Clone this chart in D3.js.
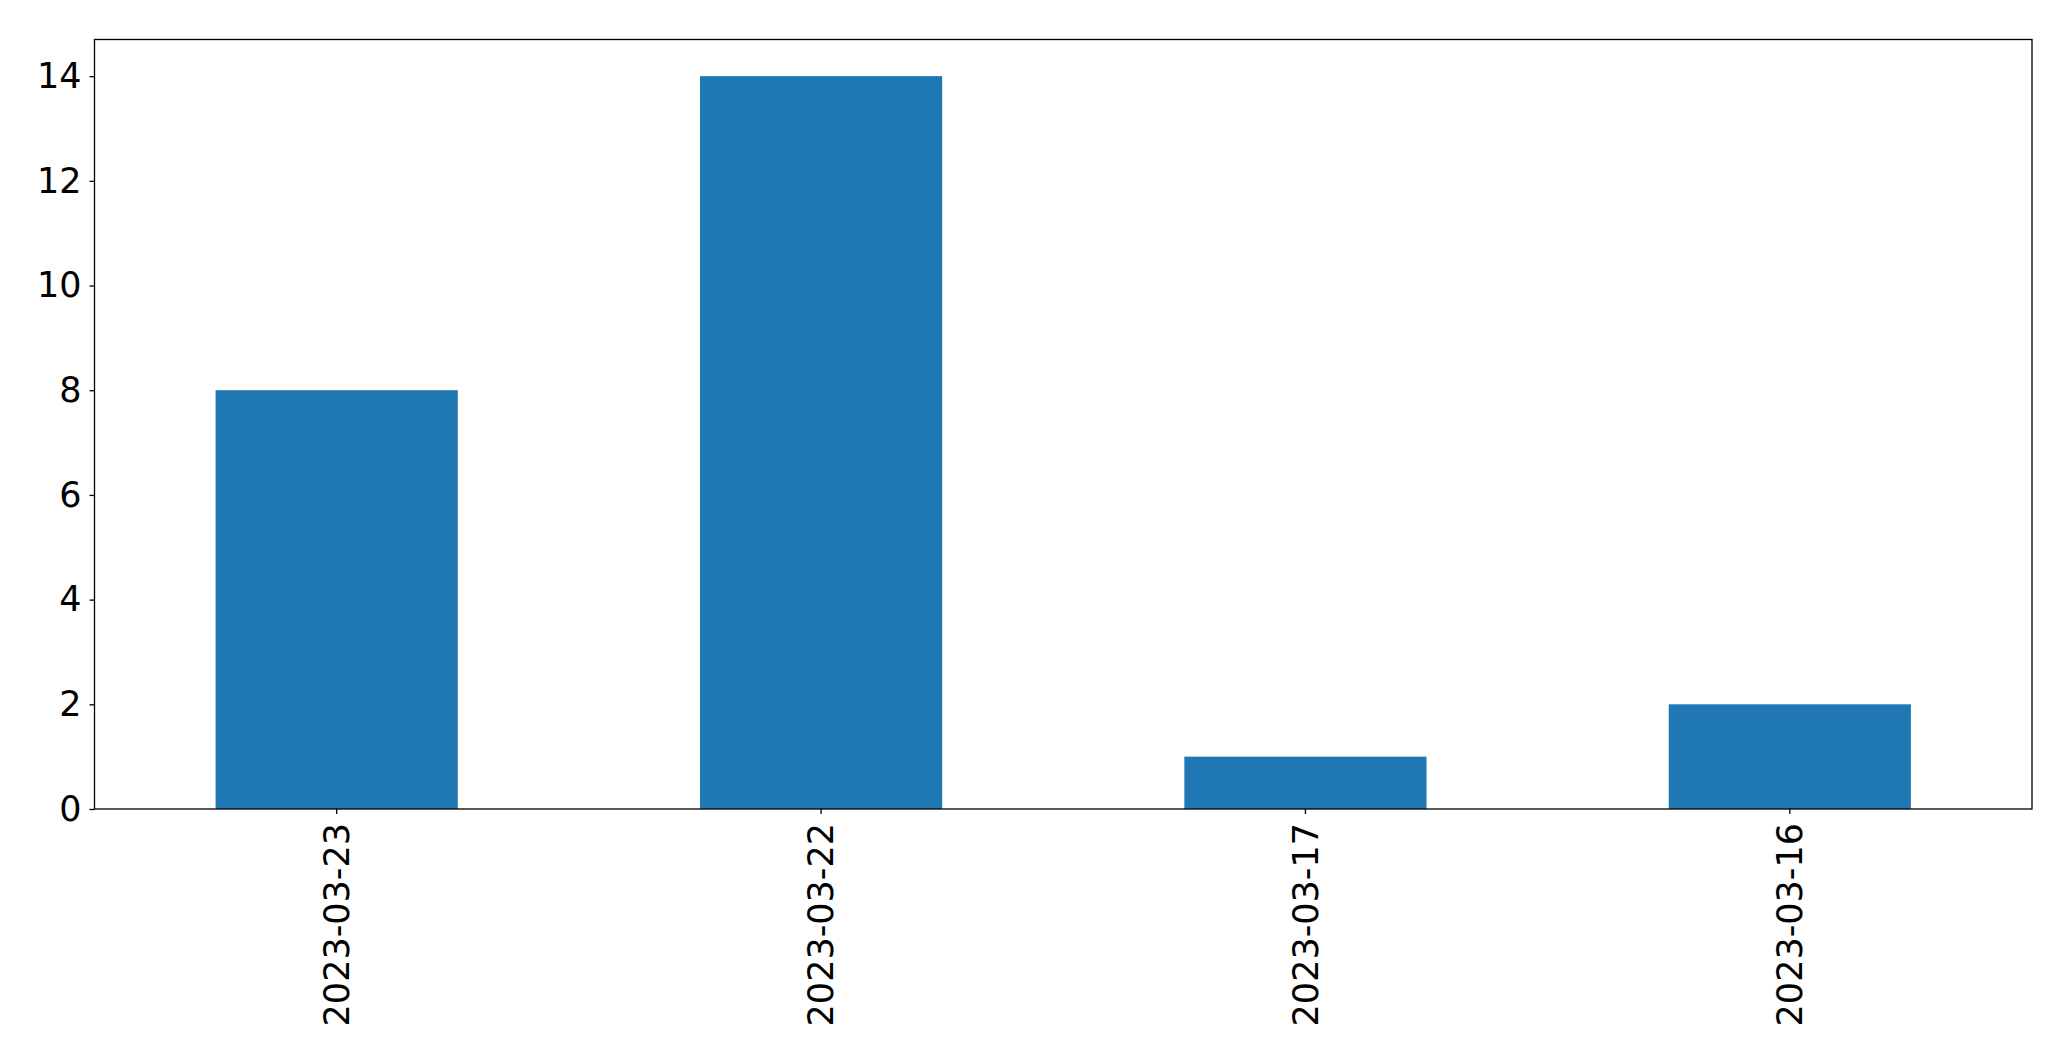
<!DOCTYPE html>
<html>
<head>
<meta charset="utf-8">
<script src="https://cdn.jsdelivr.net/npm/d3@7"></script>
<style>
  body { margin: 0; background: #fff; }
  text { font-family: "DejaVu Sans", sans-serif; }
</style>
</head>
<body>
<svg id="chart" width="2071" height="1061"></svg>
<script>
// data
const dates = ['2023-03-23', '2023-03-22', '2023-03-17', '2023-03-16'];
const counts = [8, 14, 1, 2];
const yTicks = [0, 2, 4, 6, 8, 10, 12, 14];

const width = 2071;
const height = 1061;
const margin = { top: 39.5, right: 39, bottom: 252, left: 94.5 };
const innerW = width - margin.left - margin.right;
const innerH = height - margin.top - margin.bottom;
const fontSize = 35;

const svg = d3.select('#chart');
const g = svg.append('g')
  .attr('transform', `translate(${margin.left},${margin.top})`);

// matplotlib-style band: bars of width 0.5 on unit spacing
const x = d3.scaleBand()
  .domain(dates)
  .range([0, innerW])
  .paddingInner(0.5)
  .paddingOuter(0.25);

const y = d3.scaleLinear()
  .domain([0, d3.max(counts) * 1.05])
  .range([innerH, 0]);

g.selectAll('rect.bar')
  .data(dates)
  .join('rect')
  .attr('class', 'bar')
  .attr('x', (d) => x(d))
  .attr('y', (d, i) => y(counts[i]))
  .attr('width', x.bandwidth())
  .attr('height', (d, i) => innerH - y(counts[i]))
  .attr('fill', '#1f77b4');

const axisY = g.append('g')
  .call(d3.axisLeft(y).tickValues(yTicks).tickSize(5).tickPadding(8));

const axisX = g.append('g')
  .attr('transform', `translate(0,${innerH})`)
  .call(d3.axisBottom(x).tickSize(5).tickPadding(8));

axisX.selectAll('text')
  .attr('transform', 'rotate(-90)')
  .attr('text-anchor', 'end')
  .attr('dy', '0.35em')
  .attr('x', -14)
  .attr('y', 0);

[axisX, axisY].forEach((axis) => {
  axis.select('.domain').remove();
  axis.selectAll('.tick line')
    .attr('stroke', '#000')
    .attr('stroke-width', 1.3);
  axis.selectAll('text')
    .attr('font-size', fontSize)
    .attr('font-family', '"DejaVu Sans", sans-serif')
    .attr('fill', '#000');
});

// frame around the plot area
g.append('rect')
  .attr('width', innerW)
  .attr('height', innerH)
  .attr('fill', 'none')
  .attr('stroke', '#000')
  .attr('stroke-width', 1.3);
</script>
</body>
</html>
